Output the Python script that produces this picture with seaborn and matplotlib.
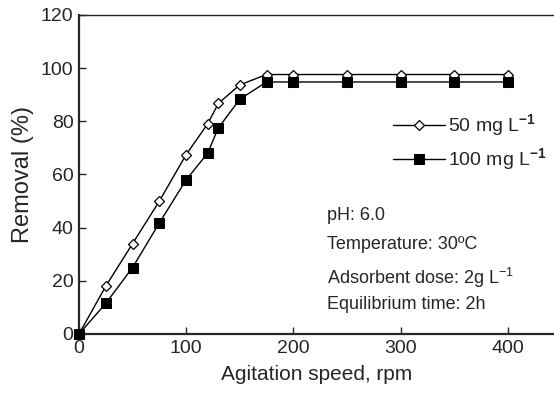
# Removal vs agitation speed chart
import pandas as pd
import seaborn as sns
import matplotlib.pyplot as plt

# data
speed = [0, 25, 50, 75, 100, 120, 130, 150, 175, 200, 250, 300, 350, 400]
removal_50 = [0, 18, 34, 50, 67.5, 79, 86.7, 93.7, 97.6, 97.6, 97.6, 97.6, 97.6, 97.6]
removal_100 = [0, 11.5, 25, 41.8, 58, 68, 77.5, 88.3, 94.8, 94.8, 94.8, 94.8, 94.8, 94.8]
labels = ['50 mg L$^{\\mathbf{-1}}$', '100 mg L$^{\\mathbf{-1}}$']
notes = ['pH: 6.0', 'Temperature: 30ºC', 'Adsorbent dose: 2g L$^{-1}$', 'Equilibrium time: 2h']

df = pd.DataFrame({'speed': speed, 'r50': removal_50, 'r100': removal_100})

sns.set_style('ticks')
plt.rcParams['font.family'] = ['Liberation Sans', 'DejaVu Sans']
plt.rcParams['mathtext.fontset'] = 'custom'
plt.rcParams['mathtext.rm'] = 'Liberation Sans'
plt.rcParams['mathtext.bf'] = 'Liberation Sans:bold'

fig = plt.figure(figsize=(5.54, 3.96), dpi=100)
ax = fig.add_axes([0.1426, 0.1566, 0.857, 0.8056])

sns.lineplot(data=df, x='speed', y='r50', ax=ax, color='black', lw=1,
             marker='D', markersize=5.5, markerfacecolor='white',
             markeredgecolor='black', markeredgewidth=0.9, label=labels[0],
             clip_on=False, zorder=3)
sns.lineplot(data=df, x='speed', y='r100', ax=ax, color='black', lw=1,
             marker='s', markersize=7.5, markerfacecolor='black',
             markeredgecolor='black', label=labels[1],
             clip_on=False, zorder=4)

ax.set_xlim(0, 443)
ax.set_ylim(0, 120)
ax.set_xticks([0, 100, 200, 300, 400])
ax.set_yticks([0, 20, 40, 60, 80, 100, 120])
ax.tick_params(direction='in', length=5, width=1, labelsize=14, pad=4)
ax.spines['right'].set_visible(False)
for s in ['left', 'bottom']:
    ax.spines[s].set_linewidth(1.6)
ax.spines['top'].set_linewidth(1)
ax.set_xlabel('Agitation speed, rpm', fontsize=15, labelpad=6)
ax.set_ylabel('Removal (%)', fontsize=17, labelpad=5)

ax.legend(loc='center left', bbox_to_anchor=(0.662, 0.60), frameon=False,
          fontsize=14, handlelength=2.67, handletextpad=0.15,
          labelspacing=0.4, borderaxespad=0, borderpad=0)

ys = [0.370, 0.279, 0.176, 0.091]
for t, y in zip(notes, ys):
    ax.text(0.523, y, t, transform=ax.transAxes, fontsize=13, va='center')

plt.savefig('out.png', dpi=100)
